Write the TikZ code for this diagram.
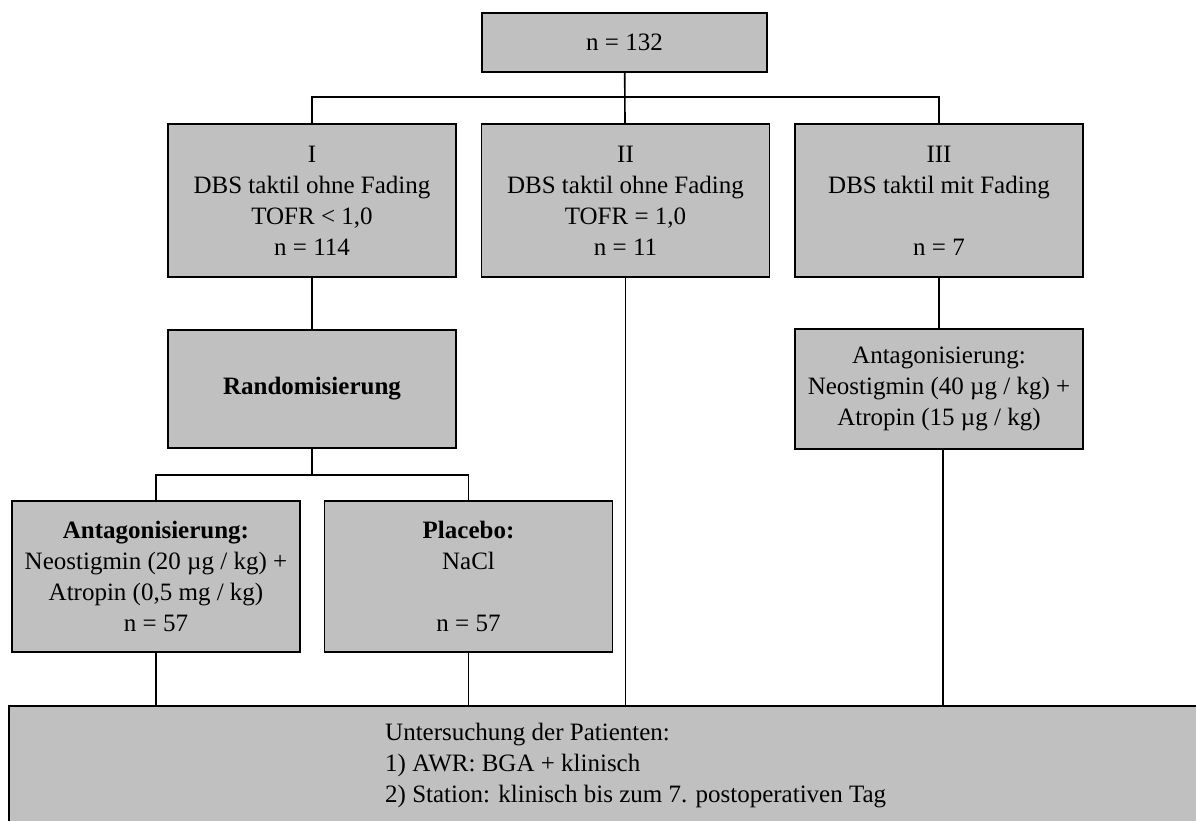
\documentclass[tikz,border=0pt]{standalone}
\usepackage{fontspec}
\setmainfont{Liberation Serif}
\definecolor{boxgray}{HTML}{C0C0C0}

\begin{document}
\begin{tikzpicture}[x=1pt,y=-1pt]
\tikzset{box/.style={draw,fill=boxgray,line width=1.6pt,inner sep=0pt,align=center,font=\fontsize{25}{31}\selectfont}}
\tikzset{wide/.style={minimum width=288pt}, link/.style={line width=1.6pt}}
\useasboundingbox (0,0) rectangle (1196,821);
\node[box,minimum width=285pt,minimum height=59pt] (all) at (624.5,42.5) {n = 132};
\node[box,wide,minimum height=153pt] (grpI) at (312,200.5) {I\\DBS taktil ohne Fading\\TOFR < 1,0\\n = 114};
\node[box,wide,minimum height=153pt] (grpII) at (625.5,200.5) {II\\DBS taktil ohne Fading\\TOFR = 1,0\\n = 11};
\node[box,wide,minimum height=153pt] (grpIII) at (939,200.5) {III\\DBS taktil mit Fading\\ \strut\\n = 7};
\node[box,wide,minimum height=118pt] (rand) at (312,389) {\textbf{Randomisierung}};
\node[box,wide,minimum height=120pt] (antIII) at (939,389) {Antagonisierung:\\Neostigmin (40 µg / kg) +\\Atropin (15 µg / kg)};
\node[box,wide,minimum height=151pt] (antI) at (156,576.5) {\textbf{Antagonisierung:}\\Neostigmin (20 µg / kg) +\\Atropin (0,5 mg / kg)\\n = 57};
\node[box,wide,minimum height=151pt] (plac) at (468.5,576.5) {\textbf{Placebo:}\\NaCl\\ \strut\\n = 57};
\node[box,minimum width=1240pt,minimum height=160pt,anchor=north west] (exam) at (8,705) {};
\node[inner sep=0pt,align=left,anchor=north west,font=\fontsize{25}{31}\selectfont] (examtext) at (385,723) {Untersuchung der Patienten:\\1) AWR: BGA + klinisch\\2) Station: klinisch bis zum 7. postoperativen Tag};
\draw[link] (all) -- (grpII);
\draw[link] (grpI.north) -- ++(0,-26) -| (grpIII.north);
\draw[link] (grpI) -- (rand);
\draw[link] (grpIII) -- (antIII);
\draw[link] (rand.south) -- ++(0,26) coordinate (split);
\draw[link] (antI.north) |- (split) -| (plac.north);
\draw[link] (antI.south) -- (antI.south |- exam.north);
\draw[link] (plac.south) -- (plac.south |- exam.north);
\draw[link] (grpII.south) -- (grpII.south |- exam.north);
\draw[link] ([xshift=4pt]antIII.south) -- ([xshift=4pt]antIII.south |- exam.north);
\end{tikzpicture}
\end{document}
